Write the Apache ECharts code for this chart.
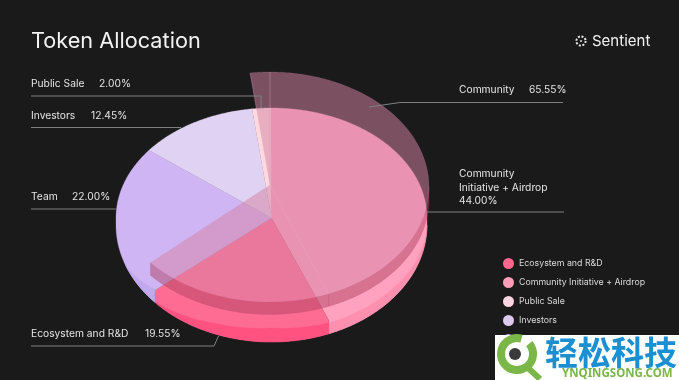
<!DOCTYPE html>
<html><head><meta charset="utf-8">
<style>html,body{margin:0;padding:0;background:#1a1a1a}#c{width:679px;height:380px}</style>
<script src="https://cdn.jsdelivr.net/npm/echarts@6/dist/echarts.min.js"></script>
</head><body><div id="c"></div>
<script>
// ---- data ----
const sliceNames  = ['Community Initiative + Airdrop','Ecosystem and R&D','Team','Investors','Public Sale'];
const sliceValues = [44.00, 19.55, 22.00, 12.45, 2.00];
const communityName  = 'Community';
const communityParts = ['Community Initiative + Airdrop','Ecosystem and R&D','Public Sale'];
const legendOrder = ['Ecosystem and R&D','Community Initiative + Airdrop','Public Sale','Investors','Team'];

// ---- styles / layout ----
const FONT = 'Inter, "Noto Sans", sans-serif';
const colors = {
  'Community Initiative + Airdrop':{top:'#ffa2bf',wall:'#ff8fae',legend:'#ff9db9'},
  'Ecosystem and R&D':{top:'#ff6c93',wall:'#ff5281',legend:'#ff668d'},
  'Team':{top:'#cfb5f4',wall:'#c2a9ee',legend:'#cfb5f4'},
  'Investors':{top:'#e0d2f2',wall:'#d3c4e8',legend:'#dcc9ee'},
  'Public Sale':{top:'#ffd9e2',wall:'#f5c8d4',legend:'#fbd5df'}
};
const topFace = {cx:271.5, cy:218, rx:155.5, ry:110, apexY:218};   // visible top ellipse
const rim     = {cx:271.5, cy:225, rx:155.5, ry:117};              // outer silhouette
const over = {cx:270, cy:187, rx:159, ry:115, apexY:185, depth:12.5};
const overTop = 'rgba(212,132,164,0.52)';
const overWall = 'rgba(176,66,100,0.50)';
// thickness of the darker rim band, by angle clockwise from 12 o'clock
const bandAngles = [ 90,104,130,158,180,200,215,228.8,250];
const bandWidths = [  0,  6, 10, 11, 14, 11,  6,   1,  0];
const teamBand   = [[228.8,13],[250,0]];

function pct(n){ return n.toFixed(2)+'%'; }
function val(n){ return sliceValues[sliceNames.indexOf(n)]; }
// angle ranges from the cumulative values
const ranges = {}; let acc = 0;
sliceNames.forEach((n,i)=>{ const a0=acc/100*360; acc+=sliceValues[i]; ranges[n]=[a0,acc/100*360]; });
function pt(g,deg){ const r=deg*Math.PI/180; return [g.cx+g.rx*Math.sin(r), g.cy-g.ry*Math.cos(r)]; }
function arc(g,a0,a1){ const p=[],n=Math.max(2,Math.ceil(Math.abs(a1-a0)*2)); for(let i=0;i<=n;i++)p.push(pt(g,a0+(a1-a0)*i/n)); return p; }
function sector(g,a0,a1){ return [[g.cx,g.apexY]].concat(arc(g,a0,a1)); }
function wall(g,a0,a1){
  const s=Math.max(a0,90), e=Math.min(a1,270); if(e<=s) return null;
  const t=arc(g,s,e); const b=t.slice().reverse().map(p=>[p[0],p[1]+g.depth]);
  return t.concat(b);
}
function lerp(xs,ys,a){ if(a<=xs[0])return ys[0]; for(let i=1;i<xs.length;i++) if(a<=xs[i]) return ys[i-1]+(ys[i]-ys[i-1])*(a-xs[i-1])/(xs[i]-xs[i-1]); return ys[ys.length-1]; }
// slice face: apex -> top ellipse at cut -> along the outer edge -> top ellipse at cut
function face(a0,a1){
  const pts=[[topFace.cx,topFace.apexY], pt(topFace,a0)];
  const n=Math.ceil((a1-a0)*2);
  for(let i=0;i<=n;i++){ const p=a0+(a1-a0)*i/n; const front=p>=90&&p<=270;
    pts.push(front?pt(rim,p):pt(topFace,p)); }
  pts.push(pt(topFace,a1));
  return pts;
}
function band(a0,a1,xs,ys){
  const s=Math.max(a0,xs[0]), e=Math.min(a1,xs[xs.length-1]); if(e<=s) return null;
  const out=arc(rim,s,e), n=out.length-1;
  const inn=out.map((p,i)=>[p[0],p[1]-lerp(xs,ys,s+(e-s)*i/n)]).reverse();
  return out.concat(inn);
}
function poly(points,fill){ return {type:'polygon',shape:{points},style:{fill,stroke:fill,lineWidth:0.3}}; }

const sliceSeries = sliceNames.map(n=>({
  name:n, type:'custom', coordinateSystem:'none', silent:true, itemStyle:{color:colors[n].legend},
  data:[[val(n)]],
  renderItem(){ const [a0,a1]=ranges[n], ch=[];
    ch.push(poly(face(a0,a1),colors[n].top));
    const b = n==='Team' ? band(a0,a1,teamBand.map(d=>d[0]),teamBand.map(d=>d[1])) : band(a0,a1,bandAngles,bandWidths);
    if(b) ch.push(poly(b,colors[n].wall));
    return {type:'group',children:ch}; }
}));
// raised translucent "Community" layer: initiative + ecosystem + public sale
const overSeries = {
  name:communityName, type:'custom', coordinateSystem:'none', silent:true,
  data:communityParts.map(n=>[val(n)]),
  renderItem(p){ const n=communityParts[p.dataIndex]; const [a0,a1]=ranges[n], ch=[], w=wall(over,a0,a1);
    if(w) ch.push(poly(w,overWall));
    ch.push(poly(sector(over,a0,a1),overTop));
    ch.push({type:'polyline',shape:{points:[[over.cx,over.apexY],pt(over,a0)]},style:{stroke:'rgba(255,225,235,0.16)',lineWidth:1,fill:null}});
    return {type:'group',children:ch}; }
};

const rowPos = {
  'Public Sale':{x:31,y:84,px:99},
  'Investors':{x:31,y:116,px:91},
  'Team':{x:31,y:197,px:72},
  'Ecosystem and R&D':{x:31,y:334,px:145}
};
const leaders = [
  [[31,96],[261,96],[261,108]],
  [[31,127.5],[181,127.5]],
  [[31,209],[116,209]],
  [[31,346],[214,346],[218.5,336]],
  [[563,102.5],[400,102.5],[369,107]],
  [[427,212],[564,212]]
];
const TXT='#e4e4e4', LINE='#808080', LBL=10.25;
const g=[];
function text(t,x,y,size,opt){ g.push({type:'text',z:6,x,y,style:{text:t,fill:(opt&&opt.c)||TXT,font:((opt&&opt.w)||400)+' '+size+'px '+FONT,verticalAlign:'middle',align:'left'}}); }
Object.keys(rowPos).forEach(n=>{ const r=rowPos[n]; text(n,r.x,r.y,LBL); text(pct(val(n)),r.px,r.y,LBL); });
const communityTotal = communityParts.reduce((s,n)=>s+val(n),0);
text(communityName,459,90,LBL); text(pct(communityTotal),529,90,LBL);
text('Community',459,174,LBL); text('Initiative + Airdrop',459,187.5,LBL); text(pct(val('Community Initiative + Airdrop')),459,201,LBL);
leaders.forEach(p=>g.push({type:'polyline',z:5,shape:{points:p},style:{stroke:LINE,lineWidth:1,fill:null}}));
text('Token Allocation',31,41,21.7,{c:'#f2f2f2'});
text('Sentient',592,41.5,15,{w:400,c:'#f2f2f2'});
g.push({type:'circle',z:6,shape:{cx:581,cy:41,r:4.6},style:{fill:null,stroke:'#e4e4e4',lineWidth:2,lineDash:[2,1.6]}});
g.push({type:'circle',z:6,shape:{cx:581,cy:41,r:1},style:{fill:'#e4e4e4'}});
// image watermark at the bottom right
g.push({type:'rect',z:20,shape:{x:495,y:335,width:184,height:45},style:{fill:'#fff'}});
g.push({type:'arc',z:21,shape:{cx:517,cy:354,r:16,startAngle:-0.7,endAngle:5.0},style:{fill:null,stroke:'#7ab648',lineWidth:8}});
g.push({type:'polyline',z:21,shape:{points:[[527,367],[540,379]]},style:{stroke:'#7ab648',lineWidth:6,fill:null}});
g.push({type:'circle',z:21,shape:{cx:515,cy:354,r:6},style:{fill:'#3a3a3a'}});
g.push({type:'text',z:21,x:545,y:352,style:{text:'轻松科技',fill:'#1b8fd0',font:'700 33px "Noto Sans CJK SC"',verticalAlign:'middle'}});
g.push({type:'text',z:21,x:562,y:374,style:{text:'YNQINGSONG.COM',fill:'#7ab648',font:'700 11.5px "Noto Sans", sans-serif',verticalAlign:'middle'}});

const chart = echarts.init(document.getElementById('c'),null,{renderer:'canvas'});
chart.setOption({
  animation:false, backgroundColor:'#1a1a1a',
  legend:{orient:'vertical',left:498,top:253,itemWidth:11,itemHeight:11,itemGap:8,icon:'circle',
    selectedMode:false,textStyle:{color:'#dcdcdc',fontFamily:FONT,fontSize:8.8,padding:[0,0,0,0]},
    data:legendOrder.map(n=>({name:n}))},
  series:sliceSeries.concat([overSeries]),
  graphic:{elements:g}
});
</script></body></html>
